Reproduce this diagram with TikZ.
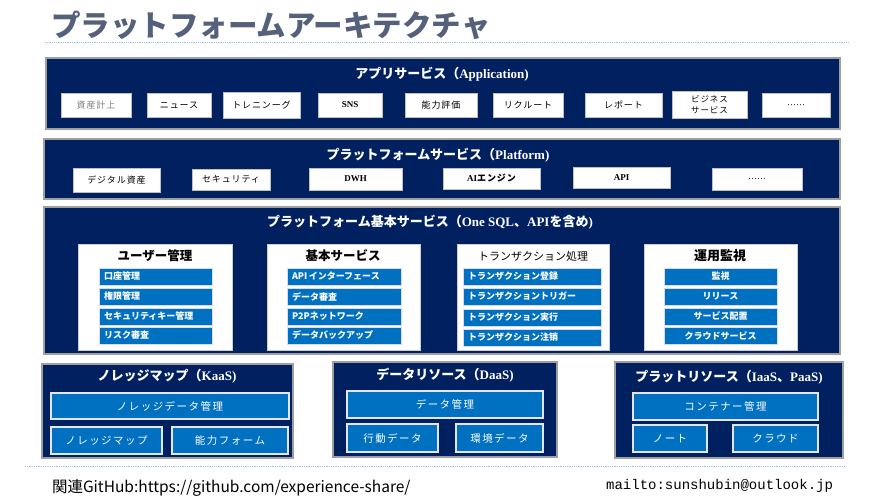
\documentclass[tikz,border=0pt]{standalone}
\usepackage{fontspec}
\setmainfont{Liberation Serif}
\newfontfamily\jp{Noto Sans CJK JP}
\newfontfamily\jpsp[LetterSpace=14]{Noto Sans CJK JP}
\newfontfamily\jpss[LetterSpace=10]{Noto Sans CJK JP}
\newfontfamily\monofnt{Liberation Mono}
\newcommand\jpt[1]{{\jp #1}}
\definecolor{navy}{HTML}{002060}
\definecolor{mblue}{HTML}{0070C0}
\definecolor{slate}{HTML}{55607A}
\definecolor{dotblue}{HTML}{9DC3E6}
% #1 style, #2 x1, #3 y1, #4 x2, #5 y2, #6 name, #7 text
\newcommand\bx[7]{\node[#1, minimum width={(#4-#2)*1pt}, minimum height={(#5-#3)*1pt}] (#6) at ({(#2+#4)/2},{(#3+#5)/2}) {#7};}
\begin{document}
\begin{tikzpicture}[x=1pt,y=-1pt,
  base/.style={inner sep=0pt, outer sep=0pt},
  layer/.style={base, fill=navy, draw=gray!75, line width=1.2pt},
  ltitle/.style={text=white, font=\bfseries\fontsize{13}{15}\selectfont},
  wbox/.style={base, fill=white, draw=gray!50, line width=0.6pt, font=\jpss\fontsize{9}{10}\selectfont, align=center},
  panel/.style={base, fill=white, draw=gray!40, line width=0.6pt},
  ptitle/.style={font=\jp\bfseries\fontsize{12.5}{14}\selectfont},
  rowbox/.style={base, fill=mblue, draw=blue!15, line width=0.5pt, text=white, font=\jp\bfseries\fontsize{9}{10}\selectfont},
  rowl/.style={rowbox, align=left, text width={\pgfkeysvalueof{/pgf/minimum width}-10pt}},
  bbox/.style={base, fill=mblue, draw=white!90!blue, line width=1.2pt, text=white, font=\jpsp\fontsize{10.5}{12}\selectfont},
]
\useasboundingbox (0,0) rectangle (888,500);
\fill[white] (0,0) rectangle (888,500);

% title
\node[base, anchor=west, text=slate, font=\jp\bfseries\fontsize{29.5}{32}\selectfont] (title) at (51,25) {プラットフォームアーキテクチャ};
\coordinate (tl1) at (45,42); \coordinate (tl2) at (848,42);
\draw[dotblue, densely dotted, line width=0.8pt] (tl1) -- (tl2);

% application layer
\bx{layer}{46}{58}{840}{129}{app}{}
\node[ltitle] (appt) at (442,74) {\jpt{アプリサービス（}Application)};
\bx{wbox,text=gray}{61}{93}{131}{117}{a1}{資産計上}
\bx{wbox}{147}{93}{211}{117}{a2}{ニュース}
\bx{wbox}{223}{92}{300}{118}{a3}{トレニンーグ}
\bx{wbox}{318}{93}{382}{117}{a4}{\rmfamily\bfseries SNS}
\bx{wbox}{405}{93}{477}{117}{a5}{能力評価}
\bx{wbox}{493}{93}{563}{117}{a6}{リクルート}
\bx{wbox}{585}{93}{662}{117}{a7}{レポート}
\bx{wbox,font=\jpss\fontsize{8.5}{11}\selectfont}{672}{91}{747}{118}{a8}{ビジネス\\サービス}
\bx{wbox}{762}{93}{830}{117}{a9}{\rmfamily ……}

% platform layer
\bx{layer}{44}{139}{840}{199}{plat}{}
\node[ltitle] (platt) at (438,155) {\jpt{プラットフォームサービス（}Platform)};
\bx{wbox}{73}{168}{160}{192}{p1}{デジタル資産}
\bx{wbox}{192}{169}{270}{190}{p2}{セキュリティ}
\bx{wbox}{309}{168}{402}{190}{p3}{\rmfamily\bfseries DWH}
\bx{wbox}{443}{168}{540}{189}{p4}{\rmfamily\bfseries AI\jpss エンジン}
\bx{wbox}{573}{167}{670}{188}{p5}{\rmfamily\bfseries API}
\bx{wbox}{712}{168}{802}{190}{p6}{\rmfamily ……}

% base services layer
\bx{layer}{44}{207}{840}{354}{basel}{}
\node[ltitle] (baset) at (430,222) {\jpt{プラットフォーム基本サービス（}One SQL\jpt{、}API\jpt{を含め})};

\bx{panel}{78}{244}{232}{350}{u}{}
\node[ptitle] (ut) at (155,256) {ユーザー管理};
\bx{rowl}{99}{268}{212}{285}{u1}{口座管理}
\bx{rowl}{99}{288}{212}{305}{u2}{権限管理}
\bx{rowl}{99}{308}{212}{325}{u3}{セキュリティキー管理}
\bx{rowl}{99}{327}{212}{344}{u4}{リスク審査}

\bx{panel}{267}{244}{420}{350}{k}{}
\node[ptitle] (kt) at (343,256) {基本サービス};
\bx{rowl}{287}{268}{401}{285}{k1}{API\,インターフェース}
\bx{rowl}{287}{288}{401}{305}{k2}{データ審査}
\bx{rowl}{287}{308}{401}{325}{k3}{P2Pネットワーク}
\bx{rowl}{287}{327}{401}{344}{k4}{データバックアップ}

\bx{panel}{457}{244}{609}{350}{t}{}
\node[ptitle, font=\jp\fontsize{11}{13}\selectfont] (tt) at (533,256) {トランザクション処理};
\bx{rowl}{463}{268}{601}{285}{t1}{トランザクション登録}
\bx{rowl}{463}{288}{601}{305}{t2}{トランザクショントリガー}
\bx{rowl}{463}{309}{601}{326}{t3}{トランザクション実行}
\bx{rowl}{463}{329}{601}{346}{t4}{トランザクション注销}

\bx{panel}{644}{244}{797}{350}{m}{}
\node[ptitle, font=\jp\bfseries\fontsize{13}{15}\selectfont] (mt) at (720,256) {運用監視};
\bx{rowbox}{664}{268}{777}{285}{m1}{監視}
\bx{rowbox}{664}{288}{777}{305}{m2}{リリース}
\bx{rowbox}{664}{308}{777}{325}{m3}{サービス配置}
\bx{rowbox}{664}{327}{777}{344}{m4}{クラウドサービス}

% KaaS
\bx{layer}{42}{364}{293}{458}{kaas}{}
\node[ltitle] (kaast) at (167,376) {\jpt{ノレッジマップ（}KaaS)};
\bx{bbox}{51}{393}{289}{419}{ka1}{ノレッジデータ管理}
\bx{bbox}{51}{427}{162}{454}{ka2}{ノレッジマップ}
\bx{bbox}{172}{427}{288}{454}{ka3}{能力フォーム}

% DaaS
\bx{layer}{333}{362}{557}{457}{daas}{}
\node[ltitle] (daast) at (445,375) {\jpt{データリソース（}DaaS)};
\bx{bbox}{347}{391}{543}{418}{da1}{データ管理}
\bx{bbox}{347}{424}{438}{452}{da2}{行動データ}
\bx{bbox}{456}{424}{543}{452}{da3}{環境データ}

% IaaS
\bx{layer}{615}{362}{843}{458}{iaas}{}
\node[ltitle] (iaast) at (729,377) {\jpt{プラットリソース（}IaaS\jpt{、}PaaS)};
\bx{bbox}{633}{393}{818}{420}{ia1}{コンテナー管理}
\bx{bbox}{633}{425}{707}{452}{ia2}{ノート}
\bx{bbox}{733}{425}{818}{452}{ia3}{クラウド}

% footer
\coordinate (fl1) at (25,466); \coordinate (fl2) at (845,466);
\draw[dotblue, densely dotted, line width=0.8pt] (fl1) -- (fl2);
\node[base, anchor=west, font=\jp\fontsize{15.5}{17}\selectfont] (gh) at (52,488) {関連GitHub:https://github.com/experience-share/};
\node[base, anchor=east, font=\monofnt\fontsize{14}{15}\selectfont] (mail) at (833,486) {mailto:sunshubin@outlook.jp};
\end{tikzpicture}
\end{document}
